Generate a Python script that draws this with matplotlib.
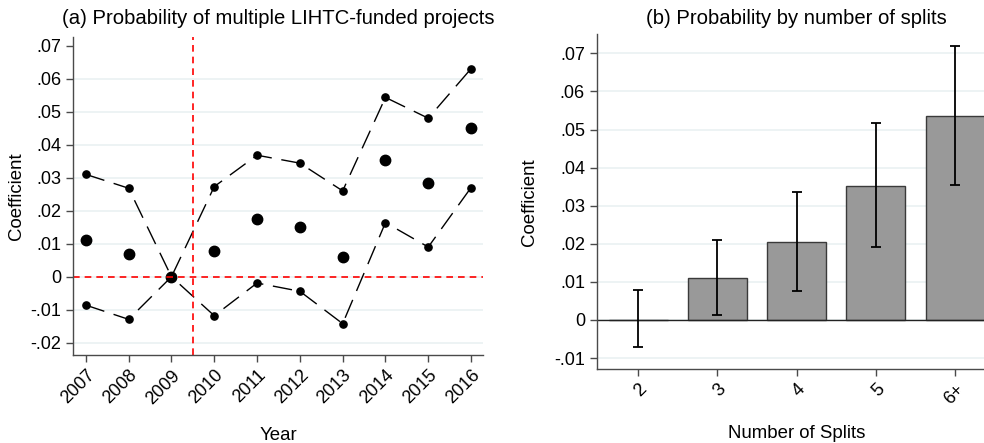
import numpy as np
import matplotlib
matplotlib.use("Agg")
import matplotlib.pyplot as plt
from matplotlib.ticker import FuncFormatter

plt.rcParams["font.family"] = ["Liberation Sans", "DejaVu Sans"]

GRID = "#e8f0f1"
SPINE = "#4a4a4a"
BAR = "#999999"
BAR_EDGE = "#3a3a3a"

# panel (a): event-study coefficients by year
years = [2007, 2008, 2009, 2010, 2011, 2012, 2013, 2014, 2015, 2016]
coef = [0.0111, 0.0069, 0.0, 0.0078, 0.0174, 0.0150, 0.0059, 0.0354, 0.0284, 0.0450]
ci_hi = [0.0310, 0.0268, 0.0, 0.0273, 0.0368, 0.0344, 0.0260, 0.0543, 0.0480, 0.0630]
ci_lo = [-0.0086, -0.0129, 0.0, -0.0118, -0.0019, -0.0044, -0.0142, 0.0164, 0.0090, 0.0270]

# panel (b): coefficients by number of splits
splits = ["2", "3", "4", "5", "6+"]
split_coef = [0.0001, 0.0111, 0.0204, 0.0353, 0.0536]
split_hi = [0.0078, 0.0211, 0.0335, 0.0516, 0.0720]
split_lo = [-0.0071, 0.0014, 0.0075, 0.0192, 0.0354]

TICK_FS = 13
LABEL_FS = 13.4
TITLE_FS = 14.6


def fmt(v, pos):
    if abs(v) < 1e-9:
        return "0"
    return f"{v:.2f}".replace("0.", ".")


def style_ax(ax):
    for side in ("top", "right"):
        ax.spines[side].set_visible(False)
    for side in ("left", "bottom"):
        ax.spines[side].set_color(SPINE)
        ax.spines[side].set_linewidth(1.0)
    ax.tick_params(direction="out", length=5, width=1, color=SPINE, labelsize=TICK_FS)
    ax.yaxis.set_major_formatter(FuncFormatter(fmt))
    ax.set_axisbelow(True)
    ax.yaxis.grid(True, color=GRID, linewidth=1.1)


fig = plt.figure(figsize=(9.84, 4.43), dpi=100)

# ── (a) ──
ax1 = fig.add_axes([0.0742, 0.1986, 0.4167, 0.7179])
style_ax(ax1)
dash = dict(color="black", lw=1.0, dashes=(14, 7))
ax1.plot(years, ci_hi, **dash)
ax1.plot(years, ci_lo, **dash)
ax1.plot(years, ci_hi, "o", color="black", ms=5.2)
ax1.plot(years, ci_lo, "o", color="black", ms=5.2)
ax1.plot(years, coef, "o", color="black", ms=7.5)
ax1.axhline(0, color="red", lw=1.2, dashes=(4, 3))
ax1.axvline(2009.5, color="red", lw=1.2, dashes=(4, 3))
ax1.set_xlim(2006.7, 2016.28)
ax1.set_ylim(-0.0237, 0.0726)
ax1.set_yticks(np.arange(-0.02, 0.071, 0.01))
ax1.yaxis.get_gridlines()[-1].set_visible(False)
ax1.set_xticks(years)
ax1.set_xticklabels([str(y) for y in years], rotation=45, ha="right",
                    rotation_mode="anchor")
ax1.set_xlabel("Year", fontsize=LABEL_FS, va="top")
ax1.xaxis.set_label_coords(0.5, -0.226)
ax1.set_ylabel("Coefficient", fontsize=LABEL_FS)
ax1.yaxis.set_label_coords(-0.117, 0.5)
fig.text(0.2825, 1 - 18 / 443, "(a) Probability of multiple LIHTC-funded projects",
         fontsize=TITLE_FS, ha="center", va="center")

# ── (b) ──
ax2 = fig.add_axes([0.6064, 0.1664, 0.3936, 0.7562])
style_ax(ax2)
xpos = np.arange(2, 2 + len(splits))
err = [np.array(split_coef) - np.array(split_lo), np.array(split_hi) - np.array(split_coef)]
ax2.bar(xpos, split_coef, width=0.745, color=BAR, edgecolor=BAR_EDGE, linewidth=1.0, zorder=2)
ax2.axhline(0, color="#222222", lw=1.0, zorder=2)
ax2.errorbar(xpos, split_coef, yerr=err, fmt="none", ecolor="black", elinewidth=1.3,
             capsize=3.6, capthick=1.3, zorder=3)
ax2.set_xlim(1.475, 6.366)
ax2.set_ylim(-0.01294, 0.0750)
ax2.set_yticks(np.arange(-0.01, 0.071, 0.01))
ax2.set_xticks(xpos)
ax2.set_xticklabels(splits, rotation=45, ha="right", rotation_mode="anchor")
ax2.set_xlabel("Number of Splits", fontsize=LABEL_FS, va="top")
ax2.xaxis.set_label_coords(0.516, -0.166)
ax2.set_ylabel("Coefficient", fontsize=LABEL_FS)
ax2.yaxis.set_label_coords(-0.152, 0.5)
fig.text(0.809, 1 - 18 / 443, "(b) Probability by number of splits",
         fontsize=TITLE_FS, ha="center", va="center")

fig.savefig("out.png", dpi=100)
